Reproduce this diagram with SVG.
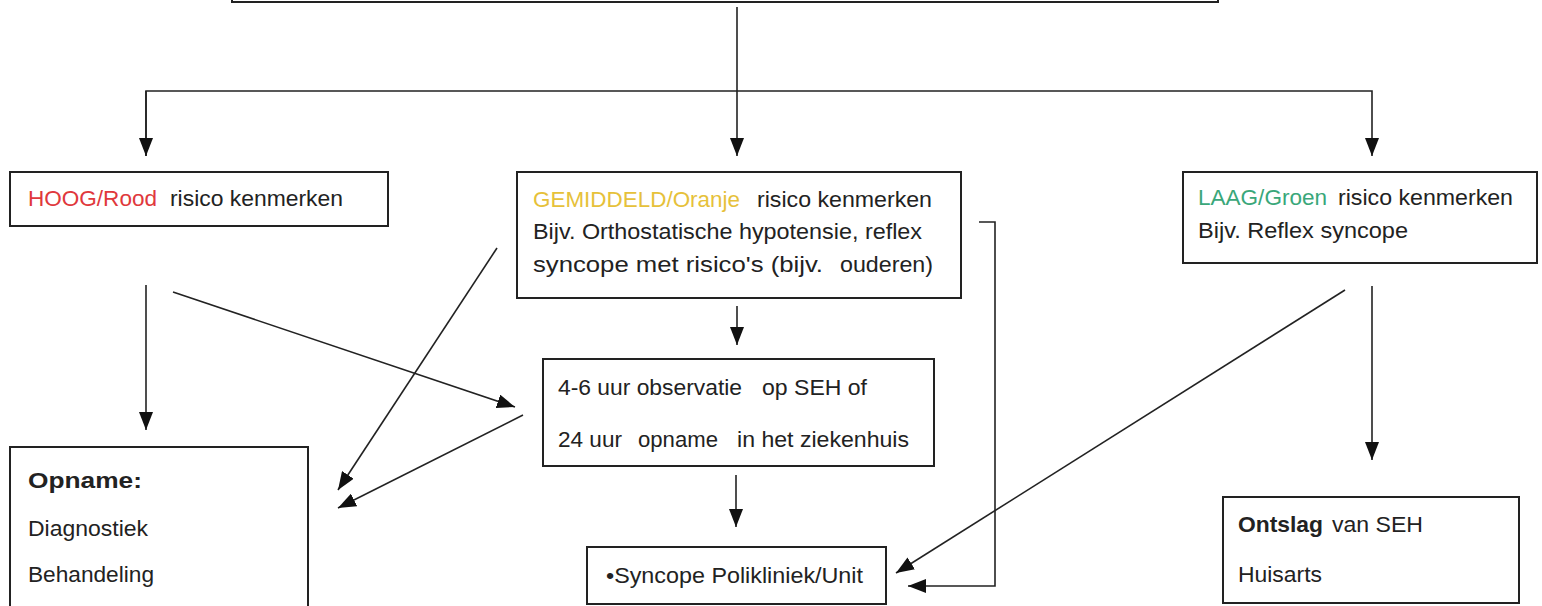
<svg xmlns="http://www.w3.org/2000/svg" width="1542" height="606" viewBox="0 0 1542 606">
<style>
.box{fill:#fff;stroke:#222;stroke-width:2}
.ln{fill:none;stroke:#222;stroke-width:1.6}
.t{font-family:"Liberation Sans",Arial,sans-serif;font-size:22px;fill:#222}
.b{font-weight:bold}
.red{fill:#e0383c}
.or{fill:#e6c13a}
.gr{fill:#3aa77a}
</style>
<defs>
<marker id="ah" markerUnits="userSpaceOnUse" markerWidth="18" markerHeight="14" refX="18" refY="7" orient="auto">
<path d="M0,0 L18,7 L0,14 z" fill="#111"/>
</marker>
</defs>
<rect width="1542" height="606" fill="#fff"/>
<g id="top">
<rect class="box" x="232" y="-30" width="986" height="32"/>
</g>
<g id="connectors">
<path class="ln" d="M737,7 V156" marker-end="url(#ah)"/>
<path class="ln" d="M146,156 V91 H1372 V156" marker-end="url(#ah)"/>
<path class="ln" d="M146,91 V156" marker-end="url(#ah)"/>
<path class="ln" d="M146,285 V430" marker-end="url(#ah)"/>
<path class="ln" d="M173,292 L515,407" marker-end="url(#ah)"/>
<path class="ln" d="M497,248 L338,490" marker-end="url(#ah)"/>
<path class="ln" d="M523,415 L338,508" marker-end="url(#ah)"/>
<path class="ln" d="M737,306 V345" marker-end="url(#ah)"/>
<path class="ln" d="M736,475 V527" marker-end="url(#ah)"/>
<path class="ln" d="M979,222 H995 V586 H908" marker-end="url(#ah)"/>
<path class="ln" d="M1345,290 L896,573" marker-end="url(#ah)"/>
<path class="ln" d="M1372,286 V460" marker-end="url(#ah)"/>
</g>
<g id="hoog">
<rect class="box" x="10" y="172" width="378" height="54"/>
<text class="t red" x="28" y="206" textLength="129" lengthAdjust="spacingAndGlyphs">HOOG/Rood</text>
<text class="t" x="170" y="206" textLength="173" lengthAdjust="spacingAndGlyphs">risico kenmerken</text>
</g>
<g id="gemiddeld">
<rect class="box" x="517" y="172" width="444" height="126"/>
<text class="t or" x="533" y="207" textLength="207" lengthAdjust="spacingAndGlyphs">GEMIDDELD/Oranje</text>
<text class="t" x="757" y="207" textLength="175" lengthAdjust="spacingAndGlyphs">risico kenmerken</text>
<text class="t" x="533" y="239" textLength="389" lengthAdjust="spacingAndGlyphs">Bijv. Orthostatische hypotensie, reflex</text>
<text class="t" x="533" y="272" textLength="290" lengthAdjust="spacingAndGlyphs">syncope met risico's (bijv.</text>
<text class="t" x="840" y="272" textLength="93" lengthAdjust="spacingAndGlyphs">ouderen)</text>
</g>
<g id="laag">
<rect class="box" x="1183" y="172" width="354" height="91"/>
<text class="t gr" x="1198" y="205" textLength="129" lengthAdjust="spacingAndGlyphs">LAAG/Groen</text>
<text class="t" x="1338" y="205" textLength="175" lengthAdjust="spacingAndGlyphs">risico kenmerken</text>
<text class="t" x="1198" y="238" textLength="210" lengthAdjust="spacingAndGlyphs">Bijv. Reflex syncope</text>
</g>
<g id="observatie">
<rect class="box" x="543" y="359" width="391" height="107"/>
<text class="t" x="558" y="395" textLength="184" lengthAdjust="spacingAndGlyphs">4-6 uur observatie</text>
<text class="t" x="762" y="395" textLength="105" lengthAdjust="spacingAndGlyphs">op SEH of</text>
<text class="t" x="558" y="447" textLength="64" lengthAdjust="spacingAndGlyphs">24 uur</text>
<text class="t" x="638" y="447" textLength="80" lengthAdjust="spacingAndGlyphs">opname</text>
<text class="t" x="737" y="447" textLength="172" lengthAdjust="spacingAndGlyphs">in het ziekenhuis</text>
</g>
<g id="opname">
<rect class="box" x="10" y="447" width="298" height="200"/>
<text class="t b" x="28" y="488" textLength="114" lengthAdjust="spacingAndGlyphs">Opname:</text>
<text class="t" x="28" y="536" textLength="120" lengthAdjust="spacingAndGlyphs">Diagnostiek</text>
<text class="t" x="28" y="582" textLength="126" lengthAdjust="spacingAndGlyphs">Behandeling</text>
</g>
<g id="syncope">
<rect class="box" x="587" y="547" width="299" height="57"/>
<text class="t" x="606" y="583" textLength="257" lengthAdjust="spacingAndGlyphs">•Syncope Polikliniek/Unit</text>
</g>
<g id="ontslag">
<rect class="box" x="1223" y="497" width="296" height="106"/>
<text class="t b" x="1238" y="532" textLength="85" lengthAdjust="spacingAndGlyphs">Ontslag</text>
<text class="t" x="1332" y="532" textLength="91" lengthAdjust="spacingAndGlyphs">van SEH</text>
<text class="t" x="1238" y="582" textLength="84" lengthAdjust="spacingAndGlyphs">Huisarts</text>
</g>
</svg>
